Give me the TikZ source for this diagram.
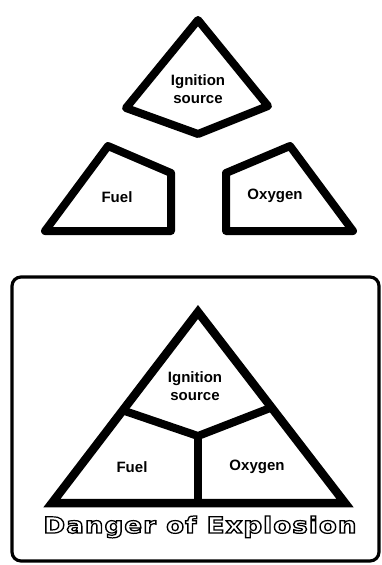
\documentclass[tikz,border=0pt]{standalone}
\usepackage{fontspec}
\setmainfont{Liberation Sans}
\newfontfamily\bannerfont{DejaVu Sans}
\usetikzlibrary{calc}
\tikzset{%
      piece/.style={draw, line width=8pt, line join=round},
      frame/.style={draw, line width=8.5pt, line join=miter},
      splitter/.style={draw, line width=8pt, line join=round},
      box/.style={draw, line width=3.2pt, rounded corners=9pt},
      texto/.style={font=\fontsize{15}{17.5}\selectfont\bfseries, align=center, inner sep=0pt},
    }
\newcommand{\etiq}[3]{node (#1) [texto] at (#2) {#3}}
% hollow letters: stroke only, no fill
\newcommand{\hollow}[1]{\special{pdf:literal direct 1 Tr 1.3 w}#1\special{pdf:literal direct 0 Tr}}

\begin{document}
\begin{tikzpicture}[x=1pt, y=-1pt]
      \useasboundingbox (0,0) rectangle (382,565);

      % Draw the three separate pieces
      \path [piece] (198,20) -- (126,108) -- (198,134) -- (268,106) -- cycle;
      \path [piece] (108,146) -- (171,173) -- (171,231) -- (45,231) -- cycle;
      \path [piece] (290,146) -- (226,173) -- (226,231) -- (353,231) -- cycle;

      \path \etiq{t1}{198,89}{Ignition\\source};
      \path \etiq{t2}{117,197}{Fuel};
      \path \etiq{t3}{275,196}{Oxygen};

      % Draw the closed triangle
      \path [box] (12,277) rectangle (379,561);

      \coordinate (apex) at (198,312);
      \coordinate (bl) at (52,503);
      \coordinate (br) at (345,503);
      \coordinate (mid) at (198,436);
      \path [frame] (apex) -- (bl) -- (br) -- cycle;
      \path [splitter] ($(apex)!0.515!(bl)$) -- (mid) -- ($(apex)!0.5!(br)$);
      \path [splitter, line cap=butt] (mid) -- (mid |- bl);

      \path \etiq{b1}{195,386}{Ignition\\source};
      \path \etiq{b2}{132,467}{Fuel};
      \path \etiq{b3}{257,467}{Oxygen};

      \path node (danger) [inner sep=0pt] at (200,527)
        {\resizebox{313pt}{17pt}{\fontsize{24}{24}\bannerfont\bfseries\addfontfeature{LetterSpace=4}\hollow{Danger of Explosion}}};
    \end{tikzpicture}
\end{document}
